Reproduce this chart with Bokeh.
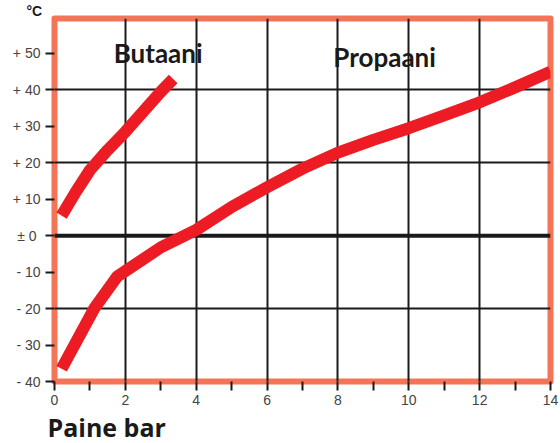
from bokeh.plotting import figure
from bokeh.models import FixedTicker, Span, Label, Title
from bokeh.embed import file_html
from bokeh.resources import INLINE

# Data
butane_p = [0.2, 0.6, 1.0, 1.5, 2.0, 2.5, 3.0, 3.35]
butane_t = [5.5, 12.0, 18.0, 23.5, 28.5, 34.0, 39.5, 43.0]

propane_p = [0.2, 1.12, 1.77, 3.0, 4.0, 5.0, 6.0, 7.0, 8.0, 9.0, 10.0, 11.0, 12.0, 13.0, 14.0]
propane_t = [-36.5, -20.0, -11.2, -3.2, 1.6, 7.9, 13.3, 18.4, 22.8, 26.3, 29.5, 33.0, 36.6, 40.7, 45.0]

x_ticks = list(range(0, 15))
x_labels = {t: (str(t) if t % 2 == 0 else "") for t in x_ticks}
y_ticks = [-40, -30, -20, -10, 0, 10, 20, 30, 40, 50]
y_labels = {}
for t in y_ticks:
    if t > 0:
        y_labels[t] = "+ " + str(t)
    elif t < 0:
        y_labels[t] = "- " + str(-t)
    else:
        y_labels[t] = "\u00b1  0"
x_grid = [2, 4, 6, 8, 10, 12]
y_grid = [-20, 20, 40]

RED = "#ED1C24"
ORANGE = "#F47458"
INK = "#1a1a1a"

p = figure(width=560, height=443, x_range=(0, 14), y_range=(-40, 59.6),
           output_backend="svg", toolbar_location=None,
           min_border_left=54, min_border_right=10, min_border_top=17, min_border_bottom=60)
p.background_fill_color = "white"
p.border_fill_color = "white"
p.outline_line_color = ORANGE
p.outline_line_width = 6
p.outline_line_join = "round"

# axes
p.xaxis.ticker = FixedTicker(ticks=x_ticks)
p.xaxis.major_label_overrides = x_labels
p.yaxis.ticker = FixedTicker(ticks=y_ticks)
p.yaxis.major_label_overrides = y_labels
for ax in (p.xaxis, p.yaxis):
    ax.axis_line_color = None
    ax.minor_tick_line_color = None
    ax.major_tick_in = 0
    ax.major_tick_line_width = 2
    ax.major_tick_line_color = INK
    ax.major_label_text_font = "Liberation Sans"
    ax.major_label_text_font_size = "14px"
    ax.major_label_text_color = "#444444"
p.xaxis.major_tick_out = 9
p.xaxis.major_label_standoff = 4
p.yaxis.major_tick_out = 9
p.yaxis.major_label_standoff = 5

# grids
p.xgrid.ticker = FixedTicker(ticks=x_grid)
p.ygrid.ticker = FixedTicker(ticks=y_grid)
for g in (p.xgrid, p.ygrid):
    g.grid_line_color = INK
    g.grid_line_width = 2
    g.grid_line_alpha = 1.0

zero = Span(location=0, dimension="width", line_color=INK, line_width=4, level="underlay")
p.add_layout(zero)

p.line(butane_p, butane_t, line_color=RED, line_width=12, line_cap="butt", line_join="round")
p.line(propane_p, propane_t, line_color=RED, line_width=12, line_cap="butt", line_join="round")

for txt, x, y in [("Butaani", 1.67, 50.0), ("Propaani", 7.87, 48.9)]:
    p.add_layout(Label(x=x, y=y, text=txt, text_font="Lato", text_font_style="bold",
                       text_font_size="26px", text_color=INK, text_baseline="alphabetic"))

unit_title = Title(text="\u00b0C", align="left", offset=-28, standoff=0, vertical_align="bottom",
                   text_font="Liberation Sans", text_font_style="bold",
                   text_font_size="14px", text_color=INK)
p.add_layout(unit_title, "above")

x_title = Title(text="Paine bar", align="left", offset=-7, standoff=0, text_line_height=0.8,
                text_font="Open Sans", text_font_style="bold",
                text_font_size="25px", text_color=INK)
p.add_layout(x_title, "below")

open("out.html", "w").write(file_html(p, INLINE))
